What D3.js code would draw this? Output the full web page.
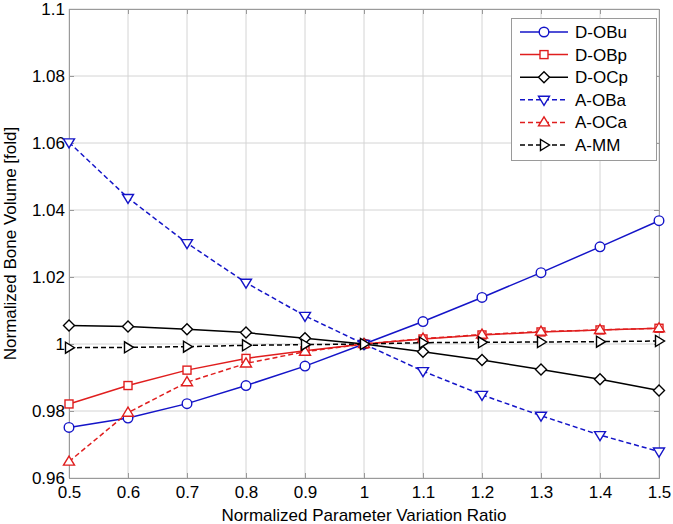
<!DOCTYPE html>
<html><head><meta charset="utf-8">
<script src="https://cdn.jsdelivr.net/npm/d3@7"></script>
<style>body{margin:0;background:#fff}svg{display:block}text{font-family:"Liberation Sans",Arial,sans-serif;fill:#000}</style>
</head><body>
<svg id="c" width="673" height="524"></svg>
<script>
const xValues = [0.5,0.6,0.7,0.8,0.9,1.0,1.1,1.2,1.3,1.4,1.5];
const xTicks = [0.5,0.6,0.7,0.8,0.9,1,1.1,1.2,1.3,1.4,1.5];
const yTicks = [0.96,0.98,1,1.02,1.04,1.06,1.08,1.1];
const seriesNames = ["D-OBu","D-OBp","D-OCp","A-OBa","A-OCa","A-MM"];
const dOBu = [0.9751,0.9779,0.9822,0.9876,0.9934,1.0,1.0067,1.0139,1.0213,1.0290,1.0368];
const dOBp = [0.9821,0.9876,0.9922,0.9957,0.9980,1.0,1.0015,1.0027,1.0036,1.0042,1.0047];
const dOCp = [1.0055,1.0052,1.0044,1.0034,1.0017,1.0,0.9977,0.9952,0.9924,0.9895,0.9861];
const aOBa = [1.0602,1.0436,1.0301,1.0183,1.0084,1.0,0.9919,0.9848,0.9786,0.9728,0.9679];
const aOCa = [0.9649,0.9795,0.9886,0.9942,0.9977,1.0,1.0016,1.0028,1.0037,1.0042,1.0047];
const aMM  = [0.9989,0.9990,0.9992,0.9996,0.9998,1.0,1.0004,1.0005,1.0006,1.0007,1.0009];

const seriesData = [dOBu,dOBp,dOCp,aOBa,aOCa,aMM];
const styles = [
  {color:"#1414c8",dash:null,marker:"circle"},
  {color:"#e01e1e",dash:null,marker:"square"},
  {color:"#000",dash:null,marker:"diamond"},
  {color:"#1414c8",dash:"5,3",marker:"tdown"},
  {color:"#e01e1e",dash:"5,3",marker:"tup"},
  {color:"#000",dash:"5,3",marker:"tright"}
];

const svg = d3.select("#c");
const L=69,R=659,T=9,B=478;
const FS="17px";
const x = d3.scaleLinear().domain([0.5,1.5]).range([L,R]);
const y = d3.scaleLinear().domain([0.96,1.1]).range([B,T]);

// grid
const g = svg.append("g");
g.selectAll(".gx").data(xTicks).enter().append("line")
  .attr("x1",d=>x(d)).attr("x2",d=>x(d)).attr("y1",T).attr("y2",B)
  .attr("stroke","#d4d4d4").attr("stroke-width",1);
g.selectAll(".gy").data(yTicks).enter().append("line")
  .attr("y1",d=>y(d)).attr("y2",d=>y(d)).attr("x1",L).attr("x2",R)
  .attr("stroke","#d4d4d4").attr("stroke-width",1);

// axes
const xAxis = d3.axisBottom(x).tickValues(xTicks).tickSize(-5).tickPadding(8).tickFormat(d3.format("~g"));
const yAxis = d3.axisLeft(y).tickValues(yTicks).tickSize(-5).tickPadding(4).tickFormat(d3.format("~g"));
const ax = svg.append("g").attr("transform",`translate(0,${B})`).call(xAxis);
const ay = svg.append("g").attr("transform",`translate(${L},0)`).call(yAxis);
const axT = svg.append("g").attr("transform",`translate(0,${T})`).call(d3.axisTop(x).tickValues(xTicks).tickSize(-5).tickFormat(""));
const ayR = svg.append("g").attr("transform",`translate(${R},0)`).call(d3.axisRight(y).tickValues(yTicks).tickSize(-5).tickFormat(""));
[ax,ay,axT,ayR].forEach(a=>{
  a.select(".domain").attr("stroke","#9a9a9a");
  a.selectAll(".tick line").attr("stroke","#9a9a9a");
  a.selectAll("text").style("font-size",FS).attr("fill","#000");
});
ax.selectAll("text").attr("dy","0.71em");

// labels
svg.append("text").attr("x",(L+R)/2).attr("y",521).attr("text-anchor","middle")
  .style("font-size",FS).text("Normalized Parameter Variation Ratio");
svg.append("text").attr("transform",`translate(16,${(T+B)/2}) rotate(-90)`).attr("text-anchor","middle")
  .style("font-size",FS).text("Normalized Bone Volume [fold]");

function drawMarker(sel, type, cx, cy, color){
  if(type==="circle") sel.append("circle").attr("cx",cx).attr("cy",cy).attr("r",4.8);
  else if(type==="square") sel.append("rect").attr("x",cx-4).attr("y",cy-4).attr("width",8).attr("height",8);
  else {
    let pts;
    if(type==="diamond") pts=[[0,-5.5],[5.5,0],[0,5.5],[-5.5,0]];
    else if(type==="tdown") pts=[[-5.5,-3.5],[5.5,-3.5],[0,5.5]];
    else if(type==="tup") pts=[[-5.5,3.5],[5.5,3.5],[0,-5.5]];
    else pts=[[-3.5,-5.5],[-3.5,5.5],[5.5,0]];
    sel.append("polygon").attr("points",pts.map(p=>[cx+p[0],cy+p[1]].join(",")).join(" "));
  }
  sel.selectAll("*").attr("fill","#fff").attr("stroke",color).attr("stroke-width",1.4);
}

const line = d3.line().x((d,i)=>x(xValues[i])).y(d=>y(d));
seriesData.forEach((data,k)=>{
  const st = styles[k];
  const sg = svg.append("g");
  sg.append("path").datum(data).attr("d",line).attr("fill","none")
    .attr("stroke",st.color).attr("stroke-width",1.5).attr("stroke-dasharray",st.dash);
  data.forEach((v,i)=>drawMarker(sg.append("g"),st.marker,x(xValues[i]),y(v),st.color));
});

// legend
const lg = svg.append("g");
lg.append("rect").attr("x",511.5).attr("y",18.5).attr("width",145).attr("height",142)
  .attr("fill","#fff").attr("stroke","#9a9a9a");
seriesNames.forEach((name,k)=>{
  const st = styles[k];
  const yy = 32 + k*22.6;
  lg.append("line").attr("x1",520).attr("x2",568).attr("y1",yy).attr("y2",yy)
    .attr("stroke",st.color).attr("stroke-width",1.5).attr("stroke-dasharray",st.dash);
  drawMarker(lg.append("g"),st.marker,544,yy,st.color);
  lg.append("text").attr("x",575).attr("y",yy).attr("dy","0.35em").style("font-size",FS).text(name);
});
</script>
</body></html>
